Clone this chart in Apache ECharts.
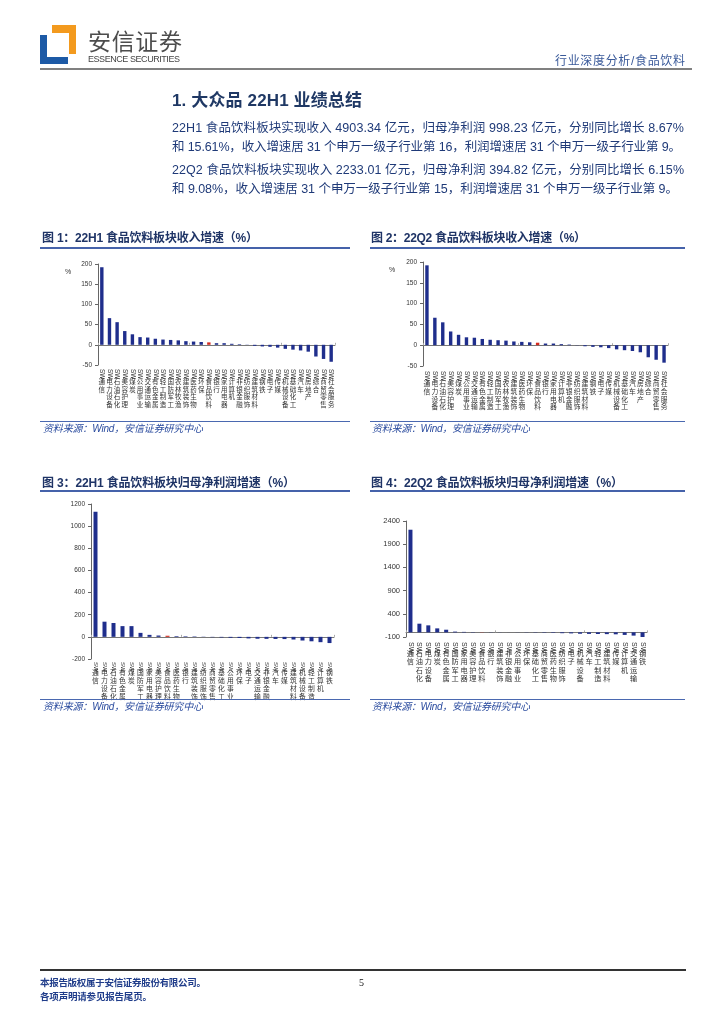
<!DOCTYPE html>
<html><head><meta charset="utf-8">
<script src="https://cdn.jsdelivr.net/npm/echarts@6/dist/echarts.min.js"></script>
<style>
body{margin:0;background:#fff;}
#page{position:relative;width:724px;height:1024px;overflow:hidden;background:#fff;font-family:"Liberation Sans","Noto Sans CJK SC",sans-serif;}
#chart{position:absolute;left:0;top:0;width:724px;height:1024px;z-index:1;}
.t{position:absolute;white-space:nowrap;z-index:2;}
.ln{position:absolute;z-index:2;}
.para{font-size:12.5px;line-height:13px;color:#1f3a78;}
.ftit{font-size:12px;line-height:12px;font-weight:bold;color:#1f3466;}
.src{font-size:10px;line-height:10px;font-style:italic;color:#2a4b9e;}
.pct{font-size:7px;line-height:7px;color:#333;}
</style></head>
<body><div id="page">
<div id="chart"></div>
<!-- header -->
<svg class="ln" style="left:0;top:0" width="90" height="70">
  <rect x="52" y="25" width="24" height="29" fill="#f39a1e"/>
  <rect x="40" y="35" width="28" height="29" fill="#1d5aa6"/>
  <rect x="47" y="33" width="22" height="24" fill="#fff"/>
</svg>
<div class="t" style="left:88px;top:28px;font-size:23px;line-height:24px;color:#4d4d4d;font-family:'Noto Sans CJK SC'" data-w="94">安信证券</div>
<div class="t" style="left:88px;top:55px;font-size:9px;line-height:9px;color:#444" data-w="92">ESSENCE SECURITIES</div>
<div class="t" style="left:555px;top:55px;font-size:12px;line-height:12px;color:#3a5a9a" data-w="130">行业深度分析/食品饮料</div>
<div class="ln" style="left:40px;top:68px;width:652px;height:2px;background:#808080"></div>

<div class="t" style="left:172px;top:92px;font-size:17px;line-height:18px;font-weight:bold;color:#1f3864" data-w="190">1. 大众品 22H1 业绩总结</div>
<div class="t para" style="left:172px;top:122px" data-w="512">22H1 食品饮料板块实现收入 4903.34 亿元，归母净利润 998.23 亿元，分别同比增长 8.67%</div>
<div class="t para" style="left:172px;top:141px" data-w="509">和 15.61%，收入增速居 31 个申万一级子行业第 16，利润增速居 31 个申万一级子行业第 9。</div>
<div class="t para" style="left:172px;top:164px" data-w="512">22Q2 食品饮料板块实现收入 2233.01 亿元，归母净利润 394.82 亿元，分别同比增长 6.15%</div>
<div class="t para" style="left:172px;top:183px" data-w="506">和 9.08%，收入增速居 31 个申万一级子行业第 15，利润增速居 31 个申万一级子行业第 9。</div>

<!-- figure titles -->
<div class="t ftit" style="left:42px;top:232px" data-w="216">图 1：22H1 食品饮料板块收入增速（%）</div>
<div class="ln" style="left:40px;top:247px;width:310px;height:2px;background:#4562aa"></div>
<div class="t ftit" style="left:371px;top:232px" data-w="215">图 2：22Q2 食品饮料板块收入增速（%）</div>
<div class="ln" style="left:370px;top:247px;width:315px;height:2px;background:#4562aa"></div>
<div class="t ftit" style="left:42px;top:477px" data-w="253">图 3：22H1 食品饮料板块归母净利润增速（%）</div>
<div class="ln" style="left:40px;top:490px;width:310px;height:2px;background:#4562aa"></div>
<div class="t ftit" style="left:371px;top:477px" data-w="252">图 4：22Q2 食品饮料板块归母净利润增速（%）</div>
<div class="ln" style="left:370px;top:490px;width:315px;height:2px;background:#4562aa"></div>

<div class="t pct" style="left:65px;top:268px">%</div>
<div class="t pct" style="left:389px;top:266px">%</div>

<!-- sources -->
<div class="ln" style="left:40px;top:421px;width:310px;height:1px;background:#4a68b0"></div>
<div class="t src" style="left:43px;top:424px" data-w="160">资料来源：Wind，安信证券研究中心</div>
<div class="ln" style="left:370px;top:421px;width:315px;height:1px;background:#4a68b0"></div>
<div class="t src" style="left:372px;top:424px" data-w="158">资料来源：Wind，安信证券研究中心</div>
<div class="ln" style="left:40px;top:699px;width:310px;height:1px;background:#4a68b0"></div>
<div class="t src" style="left:43px;top:702px" data-w="160">资料来源：Wind，安信证券研究中心</div>
<div class="ln" style="left:370px;top:699px;width:315px;height:1px;background:#4a68b0"></div>
<div class="t src" style="left:372px;top:702px" data-w="158">资料来源：Wind，安信证券研究中心</div>

<!-- footer -->
<div class="ln" style="left:40px;top:969px;width:646px;height:1.5px;background:#333"></div>
<div class="t" style="left:40px;top:978px;font-size:9.5px;line-height:10px;font-weight:bold;color:#1f3c8a" data-w="166">本报告版权属于安信证券股份有限公司。</div>
<div class="t" style="left:40px;top:992px;font-size:9.5px;line-height:10px;font-weight:bold;color:#1f3c8a" data-w="112">各项声明请参见报告尾页。</div>
<div class="t" style="left:359px;top:978px;font-size:10px;line-height:10px;color:#111;font-family:'Liberation Serif'">5</div>
</div>
<script>
// ---- data ----
const cat1 = ['SW通信','SW电力设备','SW石油石化','SW美容护理','SW煤炭','SW公用事业','SW交通运输','SW有色金属','SW轻工制造','SW国防军工','SW农林牧渔','SW建筑装饰','SW医药生物','SW环保','SW食品饮料','SW银行','SW家用电器','SW计算机','SW非银金融','SW纺织服饰','SW建筑材料','SW钢铁','SW电子','SW传媒','SW机械设备','SW基础化工','SW汽车','SW房地产','SW综合','SW商贸零售','SW社会服务'];
const val1 = [192,66,56,34,26,19,18,15,13,12,11,9,8,7,6,4,4,2.5,1.5,0.5,-2.5,-4,-5,-7,-10,-12,-14,-17,-29,-35,-42];
const cat2 = ['SW通信','SW电力设备','SW石油石化','SW美容护理','SW煤炭','SW公用事业','SW交通运输','SW有色金属','SW轻工制造','SW国防军工','SW农林牧渔','SW建筑装饰','SW医药生物','SW环保','SW食品饮料','SW银行','SW家用电器','SW计算机','SW非银金融','SW纺织服饰','SW建筑材料','SW钢铁','SW电子','SW传媒','SW机械设备','SW基础化工','SW汽车','SW房地产','SW综合','SW商贸零售','SW社会服务'];
const val2 = [192,66,55,33,25,19,18,15,13,12,11,9,8,7,6,4,4,2.5,1.5,0.5,-2.5,-4,-5,-7,-10,-12,-14,-17,-29,-35,-42];
const cat3 = ['SW通信','SW电力设备','SW石油石化','SW有色金属','SW煤炭','SW国防军工','SW家用电器','SW美容护理','SW食品饮料','SW医药生物','SW银行','SW建筑装饰','SW纺织服饰','SW商贸零售','SW基础化工','SW公用事业','SW环保','SW电子','SW交通运输','SW非银金融','SW汽车','SW传媒','SW建筑材料','SW机械设备','SW轻工制造','SW计算机','SW钢铁'];
const val3 = [1130,137,125,97,97,36,18,12,10,6,5,4,2,-3,-5,-8,-10,-14,-17,-18,-19,-20,-24,-33,-40,-48,-56];
const cat4 = ['SW通信','SW石油石化','SW电力设备','SW煤炭','SW有色金属','SW国防军工','SW家用电器','SW美容护理','SW食品饮料','SW银行','SW建筑装饰','SW非银金融','SW公用事业','SW环保','SW基础化工','SW商贸零售','SW医药生物','SW纺织服饰','SW电子','SW机械设备','SW汽车','SW轻工制造','SW建筑材料','SW传媒','SW计算机','SW交通运输','SW钢铁'];
const val4 = [2212,187,151,86,57,16,10,6,4,3,2,1,-2,-4,-6,-8,-10,-18,-22,-30,-33,-36,-38,-42,-55,-70,-105];
const yTicks1 = {min:-50, max:200, interval:50};
const yTicks2 = {min:-50, max:200, interval:50};
const yTicks3 = {min:-200, max:1200, interval:200};
const yTicks4 = {min:-100, max:2400, interval:500};
const HIGHLIGHT = 'SW食品饮料';

// ---- fit text widths ----
document.querySelectorAll('[data-w]').forEach(el=>{
  const target = +el.dataset.w;
  const n = [...el.textContent].length;
  const w = el.getBoundingClientRect().width;
  el.style.letterSpacing = ((target - w) / (n - 1)) + 'px';
});

// ---- chart ----
const NAVY = '#1f2e8c', RED = '#d42a1e';
const grids = [], xAxes = [], yAxes = [], series = [];
function build(i, cats, vals, g, yt, lab) {
  grids.push({left:g.l, top:g.t, width:g.w, height:g.h});
  yAxes.push({gridIndex:i, type:'value', min:yt.min, max:yt.max, interval:yt.interval,
    splitLine:{show:false},
    axisLine:{show:true, lineStyle:{color:'#666', width:1}},
    axisTick:{show:true, length:3, lineStyle:{color:'#666'}},
    axisLabel:{fontSize:lab.yfs, color:'#333', margin:lab.ym, fontFamily:'Liberation Sans',
      formatter:v=>String(v)}});
  xAxes.push({gridIndex:i, type:'category', data:cats, position:'bottom',
    axisLine:{show:true, onZero:true, lineStyle:{color:'#777', width:1}},
    axisTick:{show:true, inside:true, length:2, lineStyle:{color:'#aaa'}},
    axisLabel:{show:false}});
  xAxes.push({gridIndex:i, type:'category', data:cats, position:'bottom',
    axisLine:{show:false, onZero:false}, axisTick:{show:false},
    axisLabel:{interval:0, rotate:-90, margin:lab.m1, fontSize:lab.sfs, color:'#333',
      fontFamily:'Liberation Sans', formatter:v=>v.slice(0,2)}});
  xAxes.push({gridIndex:i, type:'category', data:cats, position:'bottom',
    axisLine:{show:false, onZero:false}, axisTick:{show:false},
    axisLabel:{interval:0, margin:lab.m2, fontSize:lab.fs, lineHeight:lab.lh, color:'#333',
      fontFamily:'Noto Sans CJK SC', verticalAlign:'top',
      formatter:v=>v.slice(2).split('').join('\n')}});
  series.push({type:'bar', xAxisIndex:3*i, yAxisIndex:i, barWidth:lab.bw, animation:false,
    itemStyle:{color:NAVY},
    data: vals.map((v,k)=> cats[k]===HIGHLIGHT ? {value:v, itemStyle:{color:RED}} : v)});
}
build(0, cat1, val1, {l:98, t:264, w:237, h:101}, yTicks1,
  {yfs:6.5, ym:6, m1:4, sfs:6.5, m2:13, fs:6.5, lh:7.5, bw:3.4});
build(1, cat2, val2, {l:423, t:262, w:245, h:104}, yTicks2,
  {yfs:6.5, ym:6, m1:5, sfs:6.5, m2:13.5, fs:6.8, lh:7.8, bw:3.4});
build(2, cat3, val3, {l:91, t:504, w:243, h:155}, yTicks3,
  {yfs:6.5, ym:6, m1:3, sfs:6, m2:9.5, fs:6.8, lh:8, bw:4});
build(3, cat4, val4, {l:406, t:521, w:241, h:116}, yTicks4,
  {yfs:7.5, ym:6, m1:5, sfs:7, m2:11.5, fs:7.2, lh:8.6, bw:4});

const chart = echarts.init(document.getElementById('chart'), null, {renderer:'canvas'});
chart.setOption({animation:false, backgroundColor:'transparent', grid:grids, xAxis:xAxes, yAxis:yAxes, series:series});
</script>
</body></html>
